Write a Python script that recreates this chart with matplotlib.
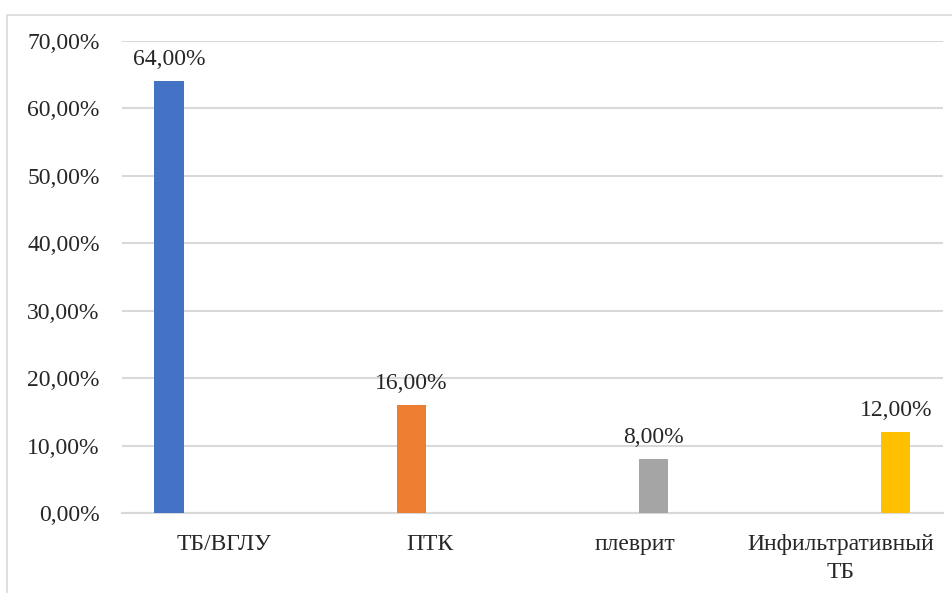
import numpy as np
import matplotlib
matplotlib.use("Agg")
import matplotlib.pyplot as plt
from matplotlib.patches import Rectangle
from matplotlib.ticker import FuncFormatter, MultipleLocator

plt.rcParams["font.family"] = ["Liberation Serif", "DejaVu Serif"]

CATEGORIES = ["ТБ/ВГЛУ", "ПТК", "плеврит", "Инфильтративный\nТБ"]
VALUES = [64.0, 16.0, 8.0, 12.0]
COLORS = ["#4472C4", "#ED7D31", "#A5A5A5", "#FFC000"]

STEP = 0.18      # offset between series inside a group
BAR_W = 0.142
GRID_COLOR = "#d9d9d9"
TEXT_COLOR = "#262626"
FS = 17


def pct(v, _pos=None):
    return f"{v:.2f}%".replace(".", ",")


fig = plt.figure(figsize=(9.52, 5.93), dpi=100)
ax = fig.add_axes([0.128, 0.135, 0.8625, 0.796])

# chart frame
fig.patches.append(Rectangle((7 / 952, -0.05), 1.1, 1 - 15 / 593 + 0.05,
                             transform=fig.transFigure, fill=False,
                             edgecolor=GRID_COLOR, linewidth=1.2))

x = np.arange(len(CATEGORIES))
n = len(CATEGORIES)
for i, (val, col) in enumerate(zip(VALUES, COLORS)):
    off = (i - (n - 1) / 2) * STEP
    ax.bar(x[i] + off, val, width=BAR_W, color=col, zorder=3)
    ax.annotate(pct(val), (x[i] + off, val), xytext=(0, 8),
                textcoords="offset points", ha="center", va="bottom",
                fontsize=FS, color=TEXT_COLOR)

ax.set_xlim(-0.5, n - 0.5)
ax.set_ylim(0, 70)
ax.yaxis.set_major_locator(MultipleLocator(10))
ax.yaxis.set_major_formatter(FuncFormatter(pct))
ax.set_xticks(x)
ax.set_xticklabels(CATEGORIES, fontsize=FS, color=TEXT_COLOR, linespacing=1.45)
ax.tick_params(axis="y", labelsize=FS, labelcolor=TEXT_COLOR, length=0, pad=16)
ax.tick_params(axis="x", length=0, pad=15)

ax.grid(axis="y", color=GRID_COLOR, linewidth=1.5, zorder=0)
for side in ["top", "right", "left"]:
    ax.spines[side].set_visible(False)
ax.spines["bottom"].set_color(GRID_COLOR)
ax.spines["bottom"].set_linewidth(1.5)

fig.savefig("out.png", dpi=100)
